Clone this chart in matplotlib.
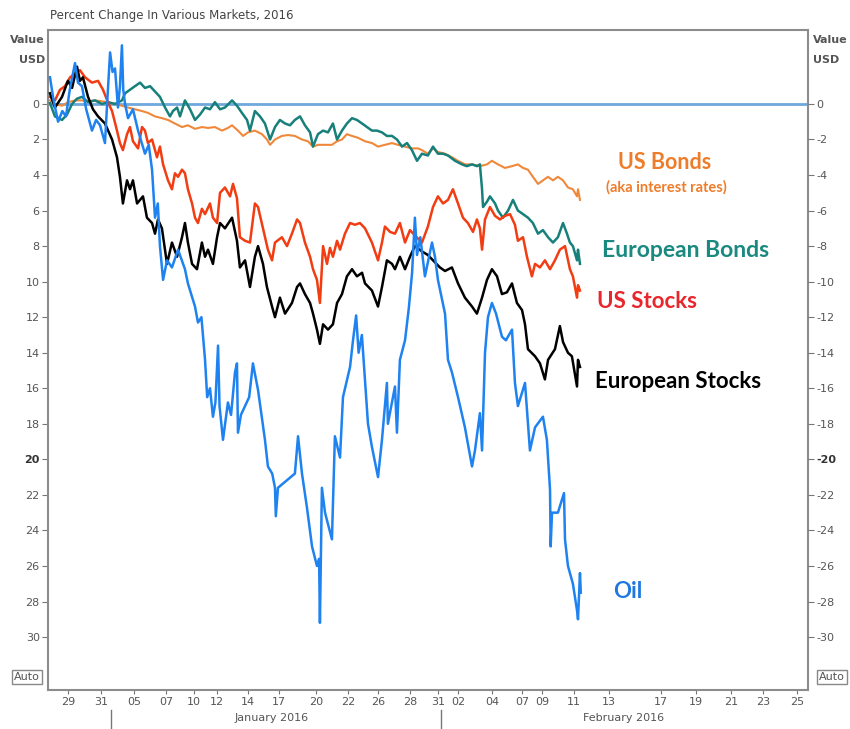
import matplotlib
matplotlib.use("Agg")
import matplotlib.pyplot as plt

# x = trading-session position (axis units), y = percent change
oil_x = [0, 0.2, 0.49, 0.75, 0.97, 1.2, 1.52, 1.7, 1.94, 2.2,
         2.55, 2.8, 3.04, 3.34, 3.5, 3.65, 3.8, 3.95, 4.13, 4.25,
         4.37, 4.45, 4.56, 4.74, 5.04, 5.35, 5.77, 6.0, 6.2, 6.38,
         6.55, 6.68, 6.87, 7.11, 7.41, 7.78, 8.2, 8.38, 8.81, 8.99,
         9.2, 9.42, 9.55, 9.72, 9.9, 10.05, 10.21, 10.3, 10.51, 10.81,
         11.0, 11.24, 11.36, 11.42, 11.6, 11.85, 12.1, 12.33, 12.64, 13.06,
         13.24, 13.5, 13.67, 13.72, 13.85, 14.88, 15.07, 15.31, 15.61, 15.92,
         16.22, 16.35, 16.4, 16.52, 16.71, 17.13, 17.31, 17.62, 17.8, 18.23,
         18.41, 18.6, 18.75, 18.95, 19.32, 19.56, 19.93, 20.17, 20.47, 20.53,
         20.96, 21.08, 21.26, 21.57, 21.8, 22.0, 22.17, 22.3, 22.5, 22.78,
         23.21, 23.39, 23.57, 24.0, 24.18, 24.42, 24.79, 25.21, 25.64, 25.82,
         26.12, 26.25, 26.43, 26.61, 26.85, 27.1, 27.46, 27.7, 28.07, 28.25,
         28.43, 28.86, 29.16, 29.47, 29.95, 30.19, 30.38, 30.42, 30.5, 30.86,
         31.23, 31.29, 31.47, 31.77, 32.02, 32.08, 32.2, 32.25]
oil_y = [1.5, 0.3, -1.0, -0.4, -0.7, 0.8, 2.3, 1.2, 1.0, -0.3,
         -1.5, -0.9, -1.2, -2.2, 0.5, 2.9, 1.8, 2.0, -0.2, 1.0,
         3.3, 0.8, 0.0, -0.8, -0.3, -1.5, -2.8, -2.3, -3.7, -6.4,
         -5.6, -8.0, -9.9, -8.8, -9.2, -8.2, -9.3, -10.1, -11.4, -12.3,
         -12.0, -14.4, -16.5, -16.0, -17.6, -16.8, -13.6, -17.0, -18.9, -16.8,
         -17.5, -15.1, -14.6, -18.5, -17.5, -17.0, -16.5, -14.6, -16.1, -18.9,
         -20.4, -20.8, -21.6, -23.2, -21.6, -20.8, -18.7, -20.8, -22.7, -24.9,
         -26.0, -25.6, -29.2, -21.6, -23.0, -24.5, -18.7, -19.9, -16.5, -14.8,
         -13.3, -11.9, -14.0, -13.0, -18.0, -19.3, -21.0, -18.9, -15.7, -18.0,
         -15.9, -18.5, -14.4, -13.3, -11.5, -9.5, -6.4, -8.5, -7.5, -9.7,
         -7.8, -8.6, -9.9, -11.8, -14.4, -15.1, -16.5, -18.2, -20.4, -19.5,
         -17.4, -19.5, -14.0, -12.0, -11.2, -11.8, -13.1, -13.3, -12.7, -15.7,
         -17.0, -15.7, -19.5, -18.2, -17.6, -18.9, -21.7, -24.9, -23.0, -23.0,
         -21.9, -24.5, -26.0, -27.0, -28.5, -29.0, -26.4, -27.5]

eu_stocks_x = [0, 0.30, 0.73, 1.09, 1.34, 1.64, 1.82, 2.00, 2.31, 2.61,
               2.92, 3.34, 3.77, 4.07, 4.25, 4.43, 4.68, 4.86, 5.04, 5.29,
               5.47, 5.65, 5.89, 6.20, 6.38, 6.56, 6.80, 7.11, 7.41, 7.72,
               8.02, 8.20, 8.38, 8.63, 8.93, 9.23, 9.42, 9.60, 9.90, 10.15,
               10.33, 10.63, 11.06, 11.36, 11.54, 11.85, 12.15, 12.45, 12.64, 12.94,
               13.18, 13.49, 13.67, 13.97, 14.28, 14.70, 15.01, 15.19, 15.49, 15.80,
               15.98, 16.22, 16.40, 16.59, 16.89, 17.19, 17.44, 17.74, 18.04, 18.35,
               18.65, 18.96, 19.14, 19.56, 19.93, 20.17, 20.47, 20.78, 20.96, 21.26,
               21.57, 21.87, 22.17, 22.60, 22.96, 23.27, 23.69, 24.00, 24.42, 24.79,
               25.21, 25.64, 25.94, 26.25, 26.55, 26.85, 27.16, 27.46, 27.76, 28.07,
               28.37, 28.68, 28.86, 29.04, 29.47, 29.77, 30.07, 30.26, 30.68, 30.98,
               31.17, 31.47, 31.71, 32.02, 32.08, 32.20]
eu_stocks_y = [0.6, -0.2, 0.4, 1.3, 0.9, 2.1, 1.3, 1.5, 0.4, -0.3,
               -0.7, -1.1, -2.0, -3.0, -4.1, -5.6, -4.3, -4.8, -4.3, -5.6,
               -5.4, -5.2, -6.4, -6.7, -7.3, -6.5, -7.0, -9.0, -7.8, -8.6,
               -7.5, -6.7, -7.8, -9.0, -9.3, -7.8, -8.6, -8.2, -9.0, -7.5,
               -6.7, -7.0, -6.4, -7.7, -9.2, -8.8, -10.3, -8.6, -8.0, -9.0,
               -10.3, -11.4, -12.0, -10.9, -11.8, -11.2, -10.3, -10.1, -10.7, -11.2,
               -11.8, -12.7, -13.5, -12.4, -12.7, -12.4, -11.2, -10.7, -9.7, -9.3,
               -9.7, -9.5, -10.1, -10.5, -11.4, -10.3, -8.8, -9.0, -9.3, -8.6,
               -9.3, -8.6, -8.0, -8.3, -8.5, -8.8, -9.2, -9.4, -9.2, -10.1,
               -10.9, -11.4, -11.8, -10.9, -9.9, -9.3, -9.7, -10.7, -10.6, -10.1,
               -11.2, -11.6, -12.4, -13.8, -14.2, -14.6, -15.5, -14.4, -13.8, -12.5,
               -13.4, -14.0, -14.2, -15.9, -14.4, -14.8]

us_stocks_x = [0, 0.30, 0.61, 0.91, 1.22, 1.52, 1.82, 2.13, 2.55, 2.92,
               3.22, 3.52, 3.77, 4.07, 4.25, 4.43, 4.68, 4.86, 5.04, 5.35,
               5.59, 5.77, 5.95, 6.20, 6.50, 6.68, 6.87, 7.17, 7.41, 7.59,
               7.78, 8.02, 8.20, 8.38, 8.63, 8.81, 8.99, 9.23, 9.42, 9.72,
               9.90, 10.15, 10.33, 10.63, 10.94, 11.12, 11.36, 11.54, 11.85, 12.15,
               12.45, 12.64, 12.94, 13.24, 13.49, 13.67, 14.09, 14.40, 14.70, 15.01,
               15.19, 15.49, 15.80, 15.98, 16.22, 16.40, 16.59, 16.83, 17.01, 17.19,
               17.44, 17.62, 17.92, 18.23, 18.53, 18.83, 19.14, 19.56, 19.93, 20.17,
               20.35, 20.66, 20.96, 21.26, 21.57, 21.87, 22.17, 22.60, 22.96, 23.27,
               23.57, 23.88, 24.18, 24.48, 24.79, 25.09, 25.39, 25.70, 25.94, 26.12,
               26.25, 26.43, 26.73, 27.04, 27.34, 27.64, 27.95, 28.25, 28.43, 28.74,
               28.98, 29.28, 29.47, 29.77, 30.07, 30.38, 30.68, 30.98, 31.29, 31.59,
               31.77, 32.02, 32.08, 32.20]
us_stocks_y = [0.4, 0.2, 0.8, 1.0, 1.5, 1.7, 1.9, 1.5, 1.2, 1.3,
               0.8, 0.1, -0.4, -1.5, -2.2, -2.6, -1.7, -1.3, -2.1, -2.5,
               -1.3, -1.5, -2.2, -2.0, -3.0, -2.4, -3.4, -4.3, -4.8, -3.9,
               -4.1, -3.7, -3.9, -4.8, -5.6, -6.4, -6.7, -5.9, -6.2, -5.6,
               -6.4, -6.7, -5.0, -4.7, -5.2, -4.5, -5.3, -7.5, -7.7, -7.8,
               -5.6, -5.8, -7.0, -8.2, -8.8, -7.8, -7.5, -8.0, -7.3, -6.5,
               -6.7, -7.8, -8.6, -9.3, -9.9, -11.2, -8.0, -9.0, -8.1, -8.6,
               -7.7, -8.2, -7.3, -6.7, -6.8, -6.7, -7.0, -7.8, -8.8, -7.8,
               -6.9, -7.2, -7.3, -6.7, -7.8, -7.1, -7.4, -7.8, -6.9, -5.8,
               -5.2, -5.6, -5.4, -4.8, -5.6, -6.4, -6.7, -7.2, -6.5, -7.0,
               -8.2, -6.5, -5.8, -6.3, -6.5, -6.3, -6.2, -6.8, -7.7, -7.5,
               -8.6, -9.7, -9.0, -9.2, -8.8, -9.3, -8.8, -8.2, -8.0, -9.3,
               -9.7, -10.9, -10.2, -10.5]

eu_bonds_x = [0, 0.30, 0.73, 1.03, 1.34, 1.64, 1.94, 2.31, 2.73, 3.16,
              3.52, 3.95, 4.37, 4.56, 4.86, 5.16, 5.47, 5.77, 6.08, 6.38,
              6.68, 6.99, 7.29, 7.47, 7.72, 7.90, 8.20, 8.51, 8.81, 9.11,
              9.42, 9.72, 10.02, 10.33, 10.63, 11.06, 11.36, 11.66, 11.97, 12.15,
              12.45, 12.76, 13.06, 13.37, 13.67, 13.97, 14.28, 14.58, 14.88, 15.19,
              15.49, 15.80, 15.98, 16.28, 16.59, 16.89, 17.19, 17.44, 17.74, 18.04,
              18.35, 18.65, 18.96, 19.26, 19.56, 19.87, 20.17, 20.47, 20.78, 21.08,
              21.39, 21.69, 21.99, 22.30, 22.60, 22.96, 23.27, 23.57, 23.88, 24.18,
              24.61, 25.03, 25.33, 25.64, 25.94, 26.12, 26.25, 26.31, 26.55, 26.73,
              27.04, 27.22, 27.52, 27.83, 28.13, 28.43, 28.74, 29.04, 29.34, 29.65,
              29.95, 30.26, 30.56, 30.86, 31.17, 31.41, 31.59, 31.77, 32.02, 32.08,
              32.20]
eu_bonds_y = [0.05, -0.7, -0.9, -0.6, 0.0, 0.3, 0.4, 0.1, 0.2, 0.0,
              0.1, 0.0, 0.2, 0.6, 0.8, 1.0, 1.2, 0.9, 1.0, 0.7,
              0.4, -0.2, -0.7, -0.4, -0.2, -0.7, 0.2, -0.3, -0.9, -0.6,
              -0.2, -0.3, 0.1, -0.3, -0.2, 0.2, -0.1, -0.5, -0.9, -1.5,
              -0.4, -0.7, -1.1, -2.0, -1.3, -0.9, -1.1, -1.2, -0.9, -0.7,
              -1.2, -1.6, -2.4, -1.7, -1.5, -1.6, -1.1, -2.0, -1.5, -1.1,
              -0.8, -0.9, -1.1, -1.3, -1.5, -1.5, -1.6, -1.8, -1.8, -2.0,
              -2.4, -2.2, -2.6, -3.2, -2.8, -2.9, -2.4, -2.8, -2.8, -2.9,
              -3.2, -3.4, -3.5, -3.4, -3.5, -3.4, -4.8, -5.8, -5.5, -5.2,
              -5.6, -6.0, -6.4, -6.0, -5.4, -6.0, -6.2, -6.4, -6.7, -7.3,
              -7.1, -7.5, -7.8, -7.5, -6.7, -7.3, -7.8, -8.0, -8.8, -8.2,
              -9.0]

us_bonds_x = [0, 0.30, 0.73, 1.09, 1.52, 1.94, 2.31, 2.73, 3.16, 3.52,
              3.95, 4.37, 4.74, 5.16, 5.59, 5.95, 6.38, 6.80, 7.17, 7.59,
              8.02, 8.38, 8.81, 9.23, 9.60, 10.02, 10.45, 10.81, 11.06, 11.42,
              11.73, 12.03, 12.45, 12.88, 13.18, 13.37, 13.67, 14.09, 14.46, 14.88,
              15.31, 15.67, 15.98, 16.28, 16.71, 17.13, 17.44, 17.74, 18.04, 18.35,
              18.71, 19.14, 19.56, 19.93, 20.35, 20.78, 21.14, 21.57, 21.99, 22.36,
              22.60, 22.96, 23.27, 23.57, 24.00, 24.42, 24.79, 25.21, 25.64, 26.12,
              26.55, 26.85, 27.22, 27.64, 28.07, 28.43, 28.74, 29.04, 29.34, 29.65,
              29.95, 30.26, 30.56, 30.86, 31.17, 31.47, 31.77, 32.02, 32.08, 32.20]
us_bonds_y = [0.2, 0.0, -0.1, 0.1, 0.2, 0.2, 0.15, 0.2, 0.15, 0.1,
              0.0, -0.1, -0.2, -0.3, -0.4, -0.5, -0.7, -0.8, -0.9, -1.1,
              -1.3, -1.2, -1.4, -1.3, -1.35, -1.3, -1.5, -1.35, -1.2, -1.5,
              -1.8, -1.6, -1.5, -1.7, -2.0, -2.3, -2.0, -1.8, -1.75, -1.8,
              -2.0, -2.1, -2.4, -2.3, -2.3, -2.3, -2.1, -2.0, -1.7, -1.8,
              -1.9, -2.1, -2.2, -2.4, -2.3, -2.2, -2.3, -2.4, -2.5, -2.5,
              -2.6, -2.8, -2.5, -2.7, -2.8, -3.0, -3.2, -3.4, -3.4, -3.5,
              -3.4, -3.2, -3.4, -3.6, -3.5, -3.4, -3.6, -3.7, -4.1, -4.5,
              -4.3, -4.1, -4.3, -4.1, -4.3, -4.7, -4.8, -5.2, -4.8, -5.4]

day_ticks = [1.09, 3.10, 5.10, 7.05, 8.75, 10.15, 12.03, 13.91, 16.16, 18.10,
             19.93, 21.87, 23.57, 24.79, 26.85, 28.68, 29.89, 31.83, 33.96, 37.12,
             39.25, 41.37, 43.32, 45.38]
day_labels = ['29', '31', '05', '07', '10', '12', '14', '17', '20', '22',
              '26', '28', '31', '02', '04', '07', '09', '11', '13', '17',
              '19', '21', '23', '25']
month_breaks = [3.71, 23.75]
month_names = ['January 2016', 'February 2016']
month_centers = [13.49, 34.87]

value_ticks = list(range(0, -31, -2))

fig = plt.figure(figsize=(8.5, 7.29), dpi=100)
ax = fig.add_axes([0.0565, 0.0535, 0.894, 0.9053])

ax.axhline(0, color='#6fa8dc', lw=2, zorder=1)
ax.plot(us_bonds_x, us_bonds_y, color='#f0883a', lw=1.5, zorder=2)
ax.plot(eu_bonds_x, eu_bonds_y, color='#17807a', lw=1.8, zorder=3)
ax.plot(us_stocks_x, us_stocks_y, color='#f23c12', lw=1.8, zorder=3)
ax.plot(eu_stocks_x, eu_stocks_y, color='black', lw=1.8, zorder=4)
ax.plot(oil_x, oil_y, color='#1e82f0', lw=1.8, zorder=5)

ax.set_xlim(-0.12, 46.05)
ax.set_ylim(-32.98, 4.16)

for s in ax.spines.values():
    s.set_color('#8c8c8c')
    s.set_linewidth(1.5)

ax.set_yticks(value_ticks)
ax.set_yticklabels([str(abs(v)) for v in value_ticks])
ax.tick_params(axis='y', length=4, color='#777', labelsize=8, labelcolor='#555', pad=2)
ax.set_xticks(day_ticks)
ax.set_xticklabels(day_labels)
ax.tick_params(axis='x', length=3, color='#777', labelsize=8, labelcolor='#555', pad=2)

ax2 = ax.twinx()
ax2.set_ylim(ax.get_ylim())
ax2.set_yticks(value_ticks)
ax2.set_yticklabels([str(v) for v in value_ticks])
ax2.tick_params(axis='y', length=4, color='#777', labelsize=8, labelcolor='#555', pad=2)
for s in ax2.spines.values():
    s.set_visible(False)

for lab in ax.get_yticklabels() + ax2.get_yticklabels():
    if lab.get_text() in ('20', '-20'):
        lab.set_fontweight('bold')
        lab.set_color('#333')

tr = ax.get_xaxis_transform()
for xb in month_breaks:
    ax.plot([xb, xb], [-0.03, -0.058], transform=tr, color='#777', lw=1, clip_on=False)
for name, xc in zip(month_names, month_centers):
    ax.text(xc, -0.043, name, transform=tr, ha='center', va='center', fontsize=8, color='#555')

fig.text(50 / 850, 1 - 15 / 729, 'Percent Change In Various Markets, 2016',
         fontsize=8.5, color='#444', ha='left', va='center')
fig.text(45 / 850, 1 - 40 / 729, 'Value', fontsize=8, color='#555', fontweight='bold', ha='right', va='center')
fig.text(45 / 850, 1 - 60 / 729, 'USD', fontsize=8, color='#555', fontweight='bold', ha='right', va='center')
fig.text(813 / 850, 1 - 40 / 729, 'Value', fontsize=8, color='#555', fontweight='bold', ha='left', va='center')
fig.text(813 / 850, 1 - 60 / 729, 'USD', fontsize=8, color='#555', fontweight='bold', ha='left', va='center')
for xa in (27 / 850, 832 / 850):
    fig.text(xa, 1 - 677 / 729, 'Auto', fontsize=8, color='#555', ha='center', va='center',
             bbox=dict(boxstyle='square,pad=0.15', fc='white', ec='#888'))

lab_font = 'Lato'
ax.text(37.36, -3.32, 'US Bonds', color='#ee7d2b', fontsize=15.5, fontweight='bold',
        family=lab_font, ha='center', va='center')
ax.text(37.48, -4.67, '(aka interest rates)', color='#ee7d2b', fontsize=10.5, fontweight='bold',
        family=lab_font, ha='center', va='center')
ax.text(38.64, -8.22, 'European Bonds', color='#1a8a80', fontsize=16.5, fontweight='bold',
        family=lab_font, ha='center', va='center')
ax.text(36.27, -11.09, 'US Stocks', color='#e8262c', fontsize=16, fontweight='bold',
        family=lab_font, ha='center', va='center')
ax.text(38.15, -15.64, 'European Stocks', color='black', fontsize=16, fontweight='bold',
        family=lab_font, ha='center', va='center')
ax.text(35.12, -27.46, 'Oil', color='#1e78e0', fontsize=16, fontweight='bold',
        family=lab_font, ha='center', va='center')

fig.savefig('out.png', dpi=100)
